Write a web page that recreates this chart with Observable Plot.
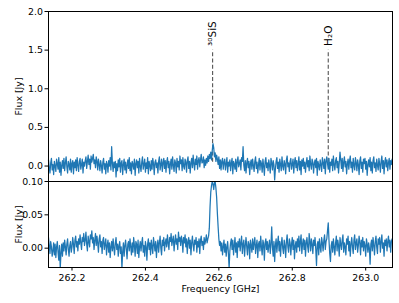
<!DOCTYPE html>
<html>
<head>
<meta charset="utf-8">
<script src="https://cdn.jsdelivr.net/npm/d3@7"></script>
<script src="https://cdn.jsdelivr.net/npm/@observablehq/plot@0.6"></script>
<style>
body { margin: 0; background: white; }
#chart { width: 399px; height: 303px; overflow: hidden; }
#chart svg { display: block; overflow: visible; }
</style>
</head>
<body>
<div id="chart"></div>
<script>
const freq = [
262.136,262.138,262.140,262.142,262.144,262.146,262.148,262.150,262.152,262.154,
262.156,262.158,262.160,262.162,262.164,262.166,262.168,262.170,262.172,262.174,
262.176,262.178,262.180,262.182,262.184,262.186,262.188,262.190,262.192,262.194,
262.196,262.198,262.200,262.202,262.204,262.206,262.208,262.210,262.212,262.214,
262.216,262.218,262.220,262.222,262.224,262.226,262.228,262.230,262.232,262.234,
262.236,262.238,262.240,262.242,262.244,262.246,262.248,262.250,262.252,262.254,
262.256,262.258,262.260,262.262,262.264,262.266,262.268,262.270,262.272,262.274,
262.276,262.278,262.280,262.282,262.284,262.286,262.288,262.290,262.292,262.294,
262.296,262.298,262.300,262.302,262.304,262.306,262.308,262.310,262.312,262.314,
262.316,262.318,262.320,262.322,262.324,262.326,262.328,262.330,262.332,262.334,
262.336,262.338,262.340,262.342,262.344,262.346,262.348,262.350,262.352,262.354,
262.356,262.358,262.360,262.362,262.364,262.366,262.368,262.370,262.372,262.374,
262.376,262.378,262.380,262.382,262.384,262.386,262.388,262.390,262.392,262.394,
262.396,262.398,262.400,262.402,262.404,262.406,262.408,262.410,262.412,262.414,
262.416,262.418,262.420,262.422,262.424,262.426,262.428,262.430,262.432,262.434,
262.436,262.438,262.440,262.442,262.444,262.446,262.448,262.450,262.452,262.454,
262.456,262.458,262.460,262.462,262.464,262.466,262.468,262.470,262.472,262.474,
262.476,262.478,262.480,262.482,262.484,262.486,262.488,262.490,262.492,262.494,
262.496,262.498,262.500,262.502,262.504,262.506,262.508,262.510,262.512,262.514,
262.516,262.518,262.520,262.522,262.524,262.526,262.528,262.530,262.532,262.534,
262.536,262.538,262.540,262.542,262.544,262.546,262.548,262.550,262.552,262.554,
262.556,262.558,262.560,262.562,262.564,262.566,262.568,262.570,262.572,262.574,
262.576,262.578,262.580,262.582,262.584,262.586,262.588,262.590,262.592,262.594,
262.596,262.598,262.600,262.602,262.604,262.606,262.608,262.610,262.612,262.614,
262.616,262.618,262.620,262.622,262.624,262.626,262.628,262.630,262.632,262.634,
262.636,262.638,262.640,262.642,262.644,262.646,262.648,262.650,262.652,262.654,
262.656,262.658,262.660,262.662,262.664,262.666,262.668,262.670,262.672,262.674,
262.676,262.678,262.680,262.682,262.684,262.686,262.688,262.690,262.692,262.694,
262.696,262.698,262.700,262.702,262.704,262.706,262.708,262.710,262.712,262.714,
262.716,262.718,262.720,262.722,262.724,262.726,262.728,262.730,262.732,262.734,
262.736,262.738,262.740,262.742,262.744,262.746,262.748,262.750,262.752,262.754,
262.756,262.758,262.760,262.762,262.764,262.766,262.768,262.770,262.772,262.774,
262.776,262.778,262.780,262.782,262.784,262.786,262.788,262.790,262.792,262.794,
262.796,262.798,262.800,262.802,262.804,262.806,262.808,262.810,262.812,262.814,
262.816,262.818,262.820,262.822,262.824,262.826,262.828,262.830,262.832,262.834,
262.836,262.838,262.840,262.842,262.844,262.846,262.848,262.850,262.852,262.854,
262.856,262.858,262.860,262.862,262.864,262.866,262.868,262.870,262.872,262.874,
262.876,262.878,262.880,262.882,262.884,262.886,262.888,262.890,262.892,262.894,
262.896,262.898,262.900,262.902,262.904,262.906,262.908,262.910,262.912,262.914,
262.916,262.918,262.920,262.922,262.924,262.926,262.928,262.930,262.932,262.934,
262.936,262.938,262.940,262.942,262.944,262.946,262.948,262.950,262.952,262.954,
262.956,262.958,262.960,262.962,262.964,262.966,262.968,262.970,262.972,262.974,
262.976,262.978,262.980,262.982,262.984,262.986,262.988,262.990,262.992,262.994,
262.996,262.998,263.000,263.002,263.004,263.006,263.008,263.010,263.012,263.014,
263.016,263.018,263.020,263.022,263.024,263.026,263.028,263.030,263.032,263.034,
263.036,263.038,263.040,263.042,263.044,263.046,263.048,263.050,263.052,263.054,
263.056,263.058,263.060,263.062,263.064,263.066,263.068,263.070,263.072
];

const fluxTop = [
.08,-.02,-.09,.04,.10,-.05,.02,-.11,.06,.00,
-.07,.09,.03,-.04,.11,-.08,.05,-.12,.01,.07,
-.03,.10,-.06,.04,.12,-.01,-.09,.06,.02,-.05,
.09,-.08,.03,.07,-.10,.05,-.02,.08,-.06,.11,
.01,-.07,.06,.10,-.04,.02,.09,-.09,.05,.00,
.07,.12,-.03,.06,.14,.02,.09,-.04,.13,.05,
.10,.15,.03,.08,-.02,.12,.06,-.05,.09,.02,
-.06,.07,.01,-.09,.05,.10,-.04,.03,-.10,.06,
.02,-.08,.07,.00,.11,-.05,.25,.04,-.07,.05,
-.02,.06,-.14,.03,-.06,.08,-.01,.10,-.08,.04,
.07,-.11,.02,.09,-.05,.05,-.09,.01,.08,-.03,
.11,-.06,.04,-.10,.06,.02,-.04,.09,-.12,.03,
.08,-.02,.06,-.09,.10,.00,-.07,.05,.12,-.04,
.02,.09,-.08,.04,-.03,.11,-.10,.06,.01,-.06,
.07,-.04,.10,.03,-.11,.05,.08,-.02,.04,-.09,
.06,.12,-.05,.02,.09,-.07,.04,.10,-.03,.07,
-.08,.05,.11,-.02,.06,-.10,.03,.09,-.04,.12,
.01,-.07,.08,.04,-.09,.10,-.01,.06,-.05,.13,
.03,.08,-.06,.11,.00,-.04,.09,.05,-.08,.07,
.12,-.03,.06,-.09,.04,.10,-.02,.14,.03,-.05,
.09,.02,.13,-.04,.07,.11,-.01,.08,.15,.04,
.05,.12,-.02,.08,.01,.10,.04,.13,.06,.15,
.10,.18,.08,.20,.29,.24,.12,.17,.06,.14,
.09,.02,.12,-.03,.08,-.05,.06,.10,-.04,.05,
.09,-.05,.03,.11,-.08,.05,.00,.08,-.06,.04,
.10,-.10,.06,.02,-.04,.09,-.07,.05,.12,-.01,
.03,.08,-.05,.11,.06,.25,.01,-.06,.07,-.09,
.04,.10,-.02,.06,-.11,.03,.08,-.04,.09,.01,
-.07,.06,.12,-.03,.05,-.09,.02,.10,-.05,.07,
.03,-.08,.09,.00,-.12,.06,.11,-.02,.04,-.06,
.08,.01,-.09,.10,.04,-.05,.07,.02,-.18,-.04,
.06,.11,-.03,.05,-.08,.09,.02,-.06,.12,.00,
-.05,.07,.03,-.10,.08,.13,-.01,.04,-.07,.06,
.10,-.04,.02,.09,-.09,.05,.11,-.02,.07,-.06,
.03,.12,-.05,.06,-.11,.08,.00,.10,-.03,.05,
-.08,.04,.11,-.01,.07,-.06,.13,.02,-.04,.09,
.05,-.09,.03,.08,-.02,.10,-.12,.06,.01,-.05,
.08,.02,-.07,.11,.04,-.03,.09,-.10,.06,.12,
.03,-.04,.10,-.08,.05,.01,.09,-.06,.13,.02,
-.05,.07,.11,-.02,.06,-.09,.04,.18,.08,-.03,
.10,-.07,.05,.12,-.01,.06,-.10,.03,.09,-.04,
.07,.13,-.02,.05,-.08,.10,.01,-.05,.11,.04,
-.06,.08,.02,-.11,.07,.12,-.03,.05,-.08,.09,
.03,.10,-.04,.06,-.12,.02,.08,-.01,.11,-.06,
.05,-.09,.07,.12,-.02,.04,-.07,.09,.01,-.05,
.10,.03,-.08,.06,.13,-.03,.07,-.10,.05,.11,
-.01,.08,-.06,.04,.10,-.04,.07,.02,.09
];

const fluxBottom = [
.016,.004,-.008,.010,.002,-.012,-.004,.008,-.010,.006,
-.014,.002,.010,-.006,-.018,.004,-.030,-.008,.006,-.012,
.008,-.004,.012,.002,-.010,.006,.014,-.002,-.012,.004,
.010,-.006,.002,.016,.006,-.008,.012,.018,.002,.010,
-.004,.014,.006,.020,.008,-.002,.016,.010,.022,.004,
.012,.024,.006,-.004,.018,.010,.002,.020,.014,.026,
.008,.016,-.002,.012,.022,.004,.018,.008,-.006,.014,
.020,.002,.010,-.008,.012,.016,-.002,.006,.014,-.010,
.004,.012,-.006,.008,-.014,.002,.010,-.004,.014,.000,
-.010,.008,.016,-.002,.006,-.012,.004,.010,-.008,.002,
-.030,-.006,.008,-.012,.004,.012,-.002,-.016,.006,.010,
-.004,.014,.002,-.010,.008,-.006,.016,.004,-.012,.010,
.006,-.008,.012,-.014,.002,.010,-.004,.008,.016,-.006,
.004,-.012,.010,.002,-.018,.006,.014,-.002,.008,-.010,
.012,.002,-.008,.016,.006,-.004,.010,-.014,.004,.012,
-.006,.008,.018,.000,-.010,.012,.004,.016,-.004,.008,
.014,.002,.020,.008,-.002,.016,.010,.022,.004,.012,
.018,-.004,.010,.020,.006,.014,-.002,.024,.010,.016,
.004,.018,.012,-.006,.016,.008,.020,.002,.014,-.008,
.010,.016,.000,.012,-.010,.008,.018,.004,-.004,.012,
.006,.016,-.006,.010,.002,.014,-.008,.012,.018,.004,
.010,-.002,.016,.006,.012,.020,.008,.014,.018,.030,
.062,.084,.094,.100,.096,.088,.098,.100,.090,.076,
.052,.032,.014,.004,.010,-.004,.008,-.010,.002,.012,
-.006,.006,-.012,.002,.010,-.008,-.030,-.004,.008,.014,
-.002,.012,-.010,.004,.016,-.006,.008,-.014,.010,.002,
.014,-.004,.008,.018,-.008,.006,.012,-.012,.004,.016,
.002,-.010,.010,.006,-.016,.012,.004,-.006,.014,-.002,
.008,.016,-.008,.004,.012,-.014,.006,.010,-.004,.018,
.002,-.010,.012,.006,-.018,.008,.014,-.002,.010,-.006,
.004,.012,-.008,.006,.032,.002,-.012,.010,-.020,.004,
.014,-.006,.008,.018,-.004,.010,-.012,.006,.016,.000,
-.008,.012,.004,-.014,.010,.020,.002,-.006,.014,.008,
-.010,.006,.016,-.002,.012,-.016,.004,.010,-.006,.014,
.002,.018,-.004,.010,.020,-.008,.006,.014,-.002,.012,
-.012,.008,.016,.002,-.006,.022,.010,-.004,.014,.006,
-.008,.012,.004,.016,-.002,-.026,.006,.010,-.010,.014,
.002,-.006,.016,.008,-.004,.012,.020,-.002,.010,.014,
.026,.038,.012,-.008,-.020,.004,.010,-.006,.014,.002,
-.010,.008,.018,-.004,.012,.004,-.012,.016,.006,-.002,
.012,.020,-.006,.008,.002,-.010,.014,.006,.018,-.004,
.010,-.012,.006,.016,.002,-.008,.012,.020,-.002,.008,
.014,-.006,.004,.018,.008,-.010,.012,.002,.016,-.004,
.010,.004,-.012,.014,.006,-.006,.008,.000,-.024,.006,
.012,-.004,.016,.004,-.010,.010,.018,.002,-.008,.014,
.006,.016,-.006,.010,.020,.000,.008,-.012,.012,.004,
.014,-.004,.010,.018,.002,.012,-.006,.010,.014
];

const lineFreqs = [262.583, 262.898];
const lineNames = ["³⁰SiS", "H₂O"];
const topTicks = [0, 0.5, 1.0, 1.5, 2.0];
const bottomTicks = [0, 0.05, 0.10];
const xTicks = [262.2, 262.4, 262.6, 262.8, 263.0];

const topData = freq.map((f, i) => ({f, v: fluxTop[i]}));
const bottomData = freq.map((f, i) => ({f, v: fluxBottom[i]}));
const lines = lineFreqs.map((f, i) => ({f, name: lineNames[i]}));

const xDomain = [262.136, 263.073];
const font = {fontFamily: "DejaVu Sans", fontSize: "9.4px", background: "transparent", color: "black"};
const blue = "#1f77b4";

const topPlot = Plot.plot({
  width: 399, height: 181,
  marginTop: 11, marginBottom: 0, marginLeft: 48, marginRight: 7,
  style: font,
  x: {domain: xDomain, axis: null},
  y: {domain: [-0.2, 2.0]},
  marks: [
    Plot.ruleX(lines, {x: "f", y1: 0.05, y2: 1.5, stroke: "#555", strokeDasharray: "4,2.2", strokeWidth: 1.1}),
    Plot.text(lines, {x: "f", y: 1.555, text: "name", rotate: -90, textAnchor: "start", lineAnchor: "middle", fontSize: 10.5, fill: "black"}),
    Plot.line(topData, {x: "f", y: "v", stroke: blue, strokeWidth: 1.25}),
    Plot.frame({stroke: "black"}),
    Plot.axisY({ticks: topTicks, tickFormat: d3.format(".1f"), tickSize: 3.5, tickPadding: 2,
      label: "Flux [Jy]", labelAnchor: "center", labelArrow: "none", labelOffset: 33})
  ]
});

const bottomPlot = Plot.plot({
  width: 399, height: 122,
  marginTop: 0, marginBottom: 36, marginLeft: 48, marginRight: 7,
  style: font,
  x: {domain: xDomain},
  y: {domain: [-0.029, 0.10]},
  marks: [
    Plot.line(bottomData, {x: "f", y: "v", stroke: blue, strokeWidth: 1.25, clip: true}),
    Plot.frame({stroke: "black"}),
    Plot.axisY({ticks: bottomTicks, tickFormat: d3.format(".2f"), tickSize: 3.5, tickPadding: 2,
      label: "Flux [Jy]", labelAnchor: "center", labelArrow: "none", labelOffset: 33}),
    Plot.axisX({ticks: xTicks, tickFormat: d3.format(".1f"), tickSize: 3.5, tickPadding: 3,
      label: "Frequency [GHz]", labelAnchor: "center", labelArrow: "none", labelOffset: 24})
  ]
});

const chart = document.getElementById("chart");
chart.appendChild(topPlot);
chart.appendChild(bottomPlot);
</script>
</body>
</html>
